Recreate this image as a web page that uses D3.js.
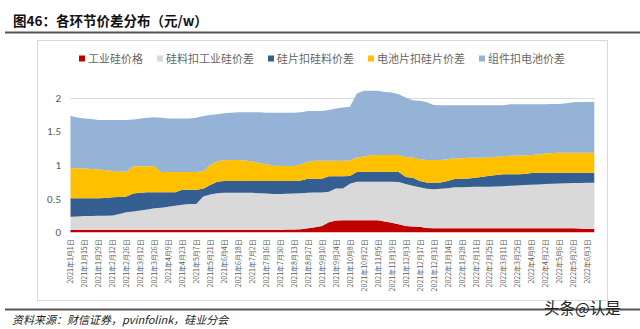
<!DOCTYPE html>
<html><head><meta charset="utf-8">
<script src="https://cdn.jsdelivr.net/npm/d3@7"></script>
<style>
body{margin:0;background:#fff;}
svg{display:block;font-family:"Noto Sans CJK SC","Noto Sans",sans-serif;}
</style></head>
<body>
<svg id="c" width="640" height="329"></svg>
<script>
const dates = [
"2021年1月1日","2021年1月8日","2021年1月15日","2021年1月22日","2021年1月29日",
"2021年2月5日","2021年2月12日","2021年2月19日","2021年2月26日",
"2021年3月5日","2021年3月12日","2021年3月19日","2021年3月26日",
"2021年4月2日","2021年4月9日","2021年4月16日","2021年4月23日","2021年4月30日",
"2021年5月7日","2021年5月14日","2021年5月21日","2021年5月28日",
"2021年6月4日","2021年6月11日","2021年6月18日","2021年6月25日",
"2021年7月2日","2021年7月9日","2021年7月16日","2021年7月23日","2021年7月30日",
"2021年8月6日","2021年8月13日","2021年8月20日","2021年8月27日",
"2021年9月3日","2021年9月10日","2021年9月17日","2021年9月24日",
"2021年10月1日","2021年10月8日","2021年10月15日","2021年10月22日","2021年10月29日",
"2021年11月5日","2021年11月12日","2021年11月19日","2021年11月26日",
"2021年12月3日","2021年12月10日","2021年12月17日","2021年12月24日","2021年12月31日",
"2022年1月7日","2022年1月14日","2022年1月21日","2022年1月28日",
"2022年2月4日","2022年2月11日","2022年2月18日","2022年2月25日",
"2022年3月4日","2022年3月11日","2022年3月18日","2022年3月25日",
"2022年4月1日","2022年4月8日","2022年4月15日","2022年4月22日","2022年4月29日",
"2022年5月6日","2022年5月13日","2022年5月20日","2022年5月27日",
"2022年6月3日","2022年6月10日"];

const seriesNames = ["工业硅价格","硅料扣工业硅价差","硅片扣硅料价差","电池片扣硅片价差","组件扣电池价差"];

const industrialSi = [0.035,0.035,0.035,0.035,0.035,0.035,0.035,0.035,0.035,0.035,
0.035,0.035,0.035,0.035,0.035,0.035,0.035,0.035,0.035,0.035,
0.035,0.035,0.035,0.035,0.035,0.035,0.035,0.035,0.035,0.035,
0.035,0.04,0.04,0.045,0.06,0.075,0.095,0.15,0.175,0.18,
0.18,0.18,0.18,0.18,0.18,0.16,0.14,0.12,0.095,0.085,
0.083,0.065,0.06,0.06,0.06,0.06,0.06,0.06,0.06,0.06,
0.06,0.06,0.06,0.06,0.06,0.06,0.06,0.06,0.06,0.06,
0.06,0.06,0.06,0.055,0.05,0.05];

const polysiSpread = [0.197,0.201,0.205,0.208,0.210,0.211,0.213,0.235,0.262,0.275,
0.290,0.305,0.321,0.330,0.343,0.360,0.375,0.385,0.385,0.495,
0.525,0.545,0.550,0.553,0.553,0.553,0.550,0.545,0.540,0.532,
0.532,0.532,0.537,0.535,0.525,0.515,0.495,0.450,0.475,0.470,
0.540,0.570,0.570,0.570,0.570,0.590,0.610,0.625,0.620,0.605,
0.584,0.583,0.580,0.585,0.595,0.607,0.610,0.612,0.615,0.617,
0.617,0.620,0.625,0.630,0.635,0.640,0.645,0.650,0.655,0.660,
0.665,0.667,0.670,0.678,0.686,0.686];

const waferSpread = [0.272,0.268,0.264,0.261,0.259,0.264,0.272,0.255,0.233,0.265,
0.260,0.253,0.237,0.228,0.215,0.198,0.222,0.212,0.212,0.115,
0.140,0.170,0.175,0.172,0.172,0.172,0.175,0.180,0.185,0.193,
0.193,0.188,0.183,0.190,0.210,0.205,0.205,0.230,0.180,0.180,
0.115,0.145,0.150,0.150,0.150,0.150,0.150,0.150,0.105,0.120,
0.093,0.092,0.096,0.095,0.105,0.123,0.125,0.128,0.135,0.148,
0.163,0.170,0.175,0.170,0.165,0.165,0.175,0.175,0.170,0.165,
0.160,0.158,0.155,0.152,0.149,0.149];

const cellSpread = [0.451,0.448,0.444,0.436,0.426,0.410,0.390,0.380,0.370,0.405,
0.395,0.387,0.387,0.302,0.302,0.302,0.263,0.263,0.263,0.265,
0.300,0.305,0.310,0.313,0.313,0.305,0.290,0.270,0.250,0.230,
0.225,0.225,0.225,0.240,0.250,0.265,0.265,0.230,0.230,0.230,
0.230,0.215,0.225,0.245,0.247,0.247,0.247,0.252,0.295,0.300,
0.325,0.333,0.337,0.333,0.325,0.307,0.305,0.305,0.295,0.282,
0.270,0.270,0.270,0.275,0.280,0.280,0.267,0.270,0.285,0.290,
0.295,0.295,0.295,0.295,0.295,0.295];

const moduleSpread = [0.770,0.753,0.742,0.740,0.736,0.746,0.756,0.761,0.766,0.695,
0.710,0.720,0.726,0.805,0.795,0.795,0.795,0.795,0.805,0.815,
0.740,0.695,0.695,0.702,0.707,0.715,0.730,0.750,0.765,0.785,
0.790,0.790,0.790,0.770,0.755,0.740,0.740,0.755,0.775,0.790,
0.797,0.950,0.975,0.955,0.953,0.933,0.928,0.903,0.885,0.850,
0.865,0.857,0.817,0.812,0.800,0.788,0.785,0.780,0.780,0.778,
0.775,0.765,0.755,0.765,0.760,0.755,0.753,0.745,0.730,0.730,
0.725,0.735,0.750,0.755,0.755,0.755];

const yTicks = [0, 0.5, 1, 1.5, 2];
const colors = ["#C00000","#D9D9D9","#355F91","#FFC000","#95B3D7"];

const svg = d3.select("#c");

const seriesArrays = [industrialSi, polysiSpread, waferSpread, cellSpread, moduleSpread];
const table = dates.map((d,i)=>{
  const row = {date:d};
  seriesNames.forEach((k,j)=>row[k]=seriesArrays[j][i]);
  return row;
});
const stacked = d3.stack().keys(seriesNames)(table);

const x = d3.scalePoint().domain(dates).range([70.5, 594.3]);
const y = d3.scaleLinear().domain([0,2]).range([232.3, 97.5]);

// title
svg.append("text").attr("x",13).attr("y",26)
  .style("font-size","13.5px").style("font-weight","bold").attr("fill","#111")
  .text("图46：各环节价差分布（元/w）");
svg.append("line").attr("x1",5).attr("x2",640).attr("y1",32.5).attr("y2",32.5)
  .attr("stroke","#555").attr("stroke-width",2);

// chart border
svg.append("rect").attr("x",37.5).attr("y",40.5).attr("width",570).attr("height",260)
  .attr("fill","none").attr("stroke","#D9D9D9").attr("stroke-width",1);

// gridlines
svg.append("g").selectAll("line").data(yTicks.filter(t=>t>0)).join("line")
  .attr("x1",70.5).attr("x2",594.3)
  .attr("y1",d=>Math.round(y(d))+0.5).attr("y2",d=>Math.round(y(d))+0.5)
  .attr("stroke","#D9D9D9").attr("stroke-width",1);

// areas
const area = d3.area().x((d,i)=>x(dates[i])).y0(d=>y(d[0])).y1(d=>y(d[1]));
svg.append("g").selectAll("path").data(stacked).join("path")
  .attr("d",area).attr("fill",(d,i)=>colors[i]);

// y axis
const yAxis = svg.append("g").attr("transform","translate(61,0)")
  .call(d3.axisLeft(y).tickValues(yTicks).tickFormat(d3.format("")).tickSize(0).tickPadding(0));
yAxis.select(".domain").remove();
yAxis.selectAll("text").style("font-size","11px").attr("fill","#595959")
  .style("font-family","Calibri,'Liberation Sans','Noto Sans',sans-serif");

// x axis
const xAxis = svg.append("g").attr("transform",`translate(0,${y(0)})`)
  .call(d3.axisBottom(x).tickValues(dates.filter((d,i)=>i%2===0)).tickSize(0));
xAxis.select(".domain").remove();
xAxis.selectAll("text")
  .attr("transform","rotate(-90)").attr("x",-7).attr("y",0).attr("dy","0.35em")
  .style("text-anchor","end").style("font-size","7px").attr("fill","#595959")
  .style("font-family","'Noto Sans CJK SC',sans-serif");

// legend
const lg = svg.append("g");
let lx = 79;
seriesNames.forEach((n,i)=>{
  lg.append("rect").attr("x",lx).attr("y",55.5).attr("width",6).attr("height",6).attr("fill",colors[i]);
  const t = lg.append("text").attr("x",lx+9).attr("y",62.5).style("font-size","11px")
    .attr("fill","#666").text(n);
  lx += 9 + t.node().getComputedTextLength() + 14;
});

// bottom
svg.append("line").attr("x1",5).attr("x2",640).attr("y1",309.5).attr("y2",309.5)
  .attr("stroke","#555").attr("stroke-width",2);
svg.append("text").attr("x",12).attr("y",324).style("font-size","11px")
  .style("font-style","italic").attr("fill","#222")
  .text("资料来源：财信证券，pvinfolink，硅业分会");
svg.append("text").attr("x",544).attr("y",314).style("font-size","15.5px")
  .attr("fill","#222").text("头条@认是");
</script>
</body></html>
